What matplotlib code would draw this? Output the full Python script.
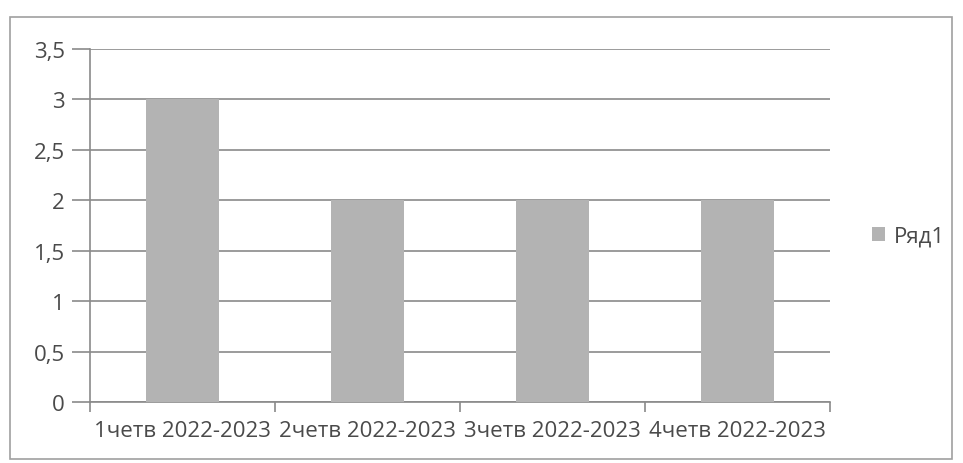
import matplotlib
matplotlib.use("Agg")
import matplotlib.pyplot as plt
from matplotlib.patches import Rectangle, Patch

# Data
categories = ["1четв 2022-2023", "2четв 2022-2023", "3четв 2022-2023", "4четв 2022-2023"]
values = [3, 2, 2, 2]
yticks = [0, 0.5, 1, 1.5, 2, 2.5, 3, 3.5]
series_name = "Ряд1"

plt.rcParams["font.family"] = ["Open Sans", "DejaVu Sans"]

fig = plt.figure(figsize=(9.63, 4.64), dpi=100)
ax = fig.add_axes([90/963, 1 - 403/464, 740/963, 353/464])

text_col = "#4a4a4a"
grid_col = "#8a8a8a"
fs = 16

x = list(range(len(categories)))
ax.bar(x, values, width=0.39, color="#b3b3b3", zorder=3)

ax.set_xlim(-0.5, len(categories) - 0.5)
ax.set_ylim(0, 3.5)
ax.set_yticks(yticks)
ax.set_yticklabels([f"{v:g}".replace(".", ",") for v in yticks], color=text_col, fontsize=fs)
ax.yaxis.grid(True, color=grid_col, linewidth=1.2, zorder=0)
ax.tick_params(axis="y", length=13, color=grid_col, width=1.2, pad=5)

# category boundary ticks
ax.set_xticks([i - 0.5 for i in range(len(categories) + 1)])
ax.set_xticklabels([])
ax.set_xticks(x, minor=True)
ax.set_xticklabels(categories, minor=True, color=text_col, fontsize=fs)
ax.tick_params(axis="x", which="major", length=7, color=grid_col, width=1.2)
ax.tick_params(axis="x", which="minor", length=0, pad=13)

for s in ["top", "right"]:
    ax.spines[s].set_visible(False)
ax.spines["left"].set_color(grid_col)
ax.spines["bottom"].set_color(grid_col)
ax.spines["left"].set_linewidth(1.2)
ax.spines["bottom"].set_linewidth(1.2)

# legend
fig.legend(handles=[Patch(facecolor="#b3b3b3", label=series_name)],
           loc="center left", bbox_to_anchor=(852/963, 1 - 237/464),
           frameon=False, fontsize=fs, labelcolor=text_col,
           handlelength=0.6, handleheight=0.6, handletextpad=0.4)

# outer chart border
fig.patches.append(Rectangle((10/963, 1 - 460/464), 942/963, 442/464,
                             transform=fig.transFigure, fill=False,
                             edgecolor="#a0a0a0", linewidth=1.2))

fig.savefig("out.png", dpi=100)
